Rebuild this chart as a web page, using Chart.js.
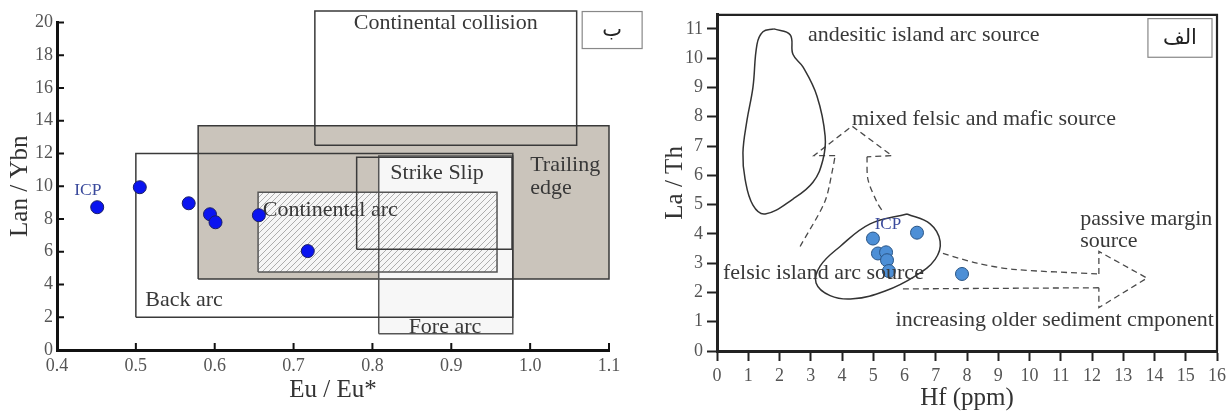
<!DOCTYPE html>
<html>
<head>
<meta charset="utf-8">
<script src="https://cdn.jsdelivr.net/npm/chart.js@4.4.1/dist/chart.umd.min.js"></script>
<style>
  html,body{margin:0;padding:0;background:#fff;}
  #wrap{position:relative;width:1231px;height:414px;overflow:hidden;background:#fff;}
  #left{position:absolute;left:0;top:0;}
  #right{position:absolute;left:660px;top:0;}
</style>
</head>
<body>
<div id="wrap">
  <canvas id="left" width="660" height="414"></canvas>
  <canvas id="right" width="571" height="414"></canvas>
</div>
<script>
/* ---- DATA: panel ب — Eu/Eu* vs Lan/Ybn ---- */
const euTicks  = [0.4, 0.5, 0.6, 0.7, 0.8, 0.9, 1.0, 1.1];
const lanTicks = [0, 2, 4, 6, 8, 10, 12, 14, 16, 18, 20];
const euSample  = [0.451, 0.505, 0.567, 0.594, 0.601, 0.656, 0.718];
const lanSample = [8.72, 9.94, 8.96, 8.29, 7.80, 8.23, 6.04];

// tectonic fields: [xMin, xMax, yMin, yMax]
const trailingEdge   = [0.579, 1.100, 4.33, 13.70];
const foreArc        = [0.808, 0.978, 1.00, 11.85];
const continentalArc = [0.655, 0.958, 4.76, 9.63];
const backArc        = [0.500, 0.978, 2.00, 12.00];
const strikeSlip     = [0.780, 0.977, 6.16, 11.77];
const collision      = [0.727, 1.059, 12.50, 20.70];

const leftLabels = [
  {text:"Continental collision", x:0.893, y:19.95, align:"center"},
  {text:"Trailing", x:1.000, y:11.28},
  {text:"edge", x:1.000, y:9.88},
  {text:"Strike Slip", x:0.882, y:10.80, align:"center"},
  {text:"Continental arc", x:0.661, y:8.54},
  {text:"Back arc", x:0.512, y:3.05},
  {text:"Fore arc", x:0.892, y:1.40, align:"center"},
  {text:"ICP", x:0.439, y:9.76, align:"center", size:17.5, color:"#3a4a9c"},
];
const leftTag = {text:"ب", x0:1.066, x1:1.142, y0:18.41, y1:20.67};

/* ---- DATA: panel الف — Hf vs La/Th ---- */
const hfTicks   = [0,1,2,3,4,5,6,7,8,9,10,11,12,13,14,15,16];
const laThTicks = [0,1,2,3,4,5,6,7,8,9,10,11];
const hfSample   = [4.99, 6.40, 5.15, 5.41, 5.44, 5.50, 7.84];
const laThSample = [3.84, 4.04, 3.33, 3.37, 3.10, 2.73, 2.63];

const andesiticHf   = [1.82, 2.34, 2.43, 2.75, 3.20, 3.46, 3.39, 3.07, 2.43, 1.54, 1.15, 0.90, 0.83, 0.96, 1.15, 1.28, 1.47, 1.82];
const andesiticLaTh = [11.0, 10.8, 10.13, 9.70, 8.70, 7.34, 6.53, 5.76, 5.19, 4.68, 4.98, 5.86, 6.77, 7.88, 9.00, 10.47, 10.90, 11.0];

const felsicHf   = [6.08, 6.82, 7.14, 6.98, 6.34, 5.38, 4.35, 3.62, 3.17, 3.30, 3.94, 4.90, 6.08];
const felsicLaTh = [4.68, 4.34, 3.74, 3.13, 2.56, 2.05, 1.78, 1.89, 2.32, 2.90, 3.57, 4.34, 4.68];

// upward arrow (mixed felsic and mafic source)
const upLeftHf    = [2.66, 3.45, 3.70, 3.78];
const upLeftLaTh  = [3.57, 5.10, 6.20, 6.67];
const upHeadHf    = [3.78, 3.10, 4.32, 5.60, 4.80];
const upHeadLaTh  = [6.67, 6.67, 7.68, 6.67, 6.63];
const upRightHf   = [4.80, 4.83, 5.12, 5.31];
const upRightLaTh = [6.63, 5.86, 5.08, 4.75];

// rightward arrow (passive margin source)
const rtUpperHf   = [7.23, 8.32, 9.47, 12.22];
const rtUpperLaTh = [3.33, 3.00, 2.79, 2.63];
const rtHeadHf    = [12.22, 12.22, 13.76, 12.22, 12.22];
const rtHeadLaTh  = [2.63, 3.40, 2.49, 1.48, 2.16];
const rtLowerHf   = [12.22, 5.95];
const rtLowerLaTh = [2.16, 2.12];

const rightLabels = [
  {text:"andesitic island arc source", x:2.91, y:10.77},
  {text:"mixed felsic and mafic source", x:4.32, y:7.91},
  {text:"passive margin", x:11.62, y:4.51},
  {text:"source", x:11.62, y:3.74},
  {text:"felsic island arc source", x:0.19, y:2.66},
  {text:"increasing older sediment cmponent", x:15.90, y:1.04, align:"right"},
  {text:"ICP", x:5.47, y:4.31, align:"center", size:17, color:"#3a4a9c"},
];
const rightTag = {text:"الف", x0:13.79, x1:15.84, y0:10.03, y1:11.35};

/* ---- helpers ---- */
const serif = "'Liberation Serif','Times New Roman',serif";
const zip = (xs, ys) => xs.map((x,i)=>({x, y:ys[i]}));
const rect = f => [{x:f[0],y:f[2]},{x:f[1],y:f[2]},{x:f[1],y:f[3]},{x:f[0],y:f[3]},{x:f[0],y:f[2]}];
const fixedTicks = values => scale => { scale.ticks = values.map(v=>({value:v})); };

function hatch(){
  const c = document.createElement("canvas"); c.width = 6; c.height = 6;
  const g = c.getContext("2d");
  g.fillStyle = "#f6f6f6"; g.fillRect(0,0,6,6);
  g.strokeStyle = "#9a9a9a"; g.lineWidth = 0.8;
  g.beginPath(); g.moveTo(0,6); g.lineTo(6,0); g.stroke();
  return g.createPattern(c, "repeat");
}

function field(data, opts){
  return Object.assign({data, pointRadius:0, pointHoverRadius:0, tension:0, clip:false,
    borderColor:"#3a3a3a", borderWidth:1.5, fill:false}, opts);
}

function drawLabels(chart, labels){
  const {ctx, scales:{x, y}} = chart;
  ctx.save();
  ctx.textBaseline = "middle";
  labels.forEach(l=>{
    ctx.font = `${l.size||22}px ${serif}`;
    ctx.fillStyle = l.color || "#383838";
    ctx.textAlign = l.align || "left";
    ctx.fillText(l.text, x.getPixelForValue(l.x), y.getPixelForValue(l.y));
  });
  ctx.restore();
}

function drawTag(chart, t){
  const {ctx, scales:{x, y}} = chart;
  const x0 = x.getPixelForValue(t.x0), x1 = x.getPixelForValue(t.x1);
  const y0 = y.getPixelForValue(t.y1), y1 = y.getPixelForValue(t.y0);
  ctx.save();
  ctx.fillStyle = "#fff"; ctx.fillRect(x0, y0, x1-x0, y1-y0);
  ctx.strokeStyle = "#888"; ctx.lineWidth = 1.2; ctx.strokeRect(x0, y0, x1-x0, y1-y0);
  ctx.fillStyle = "#222"; ctx.font = "21px 'DejaVu Sans', sans-serif";
  ctx.textAlign = "center"; ctx.textBaseline = "middle";
  ctx.fillText(t.text, (x0+x1)/2, (y0+y1)/2 + 1);
  ctx.restore();
}

/* ---- panel ب ---- */
const leftDecor = {
  id:"leftDecor",
  beforeDatasetDraw(chart, args){
    if(chart.data.datasets[args.index].id === "samples") drawLabels(chart, leftLabels);
  },
  afterDraw(chart){
    const {ctx, chartArea:a, scales:{x, y}} = chart;
    ctx.save();
    ctx.strokeStyle = "#111"; ctx.lineWidth = 2;
    ctx.beginPath();
    euTicks.forEach(v=>{ const px = x.getPixelForValue(v); ctx.moveTo(px, a.bottom); ctx.lineTo(px, a.bottom-7); });
    lanTicks.forEach(v=>{ const py = y.getPixelForValue(v); ctx.moveTo(a.left, py); ctx.lineTo(a.left+7, py); });
    ctx.stroke();
    ctx.restore();
    drawTag(chart, leftTag);
  }
};

new Chart(document.getElementById("left"), {
  type:"line",
  data:{datasets:[
    field(rect(trailingEdge),   {order:20, fill:"shape", backgroundColor:"#cac4bb", borderWidth:0}),
    field(rect(foreArc),        {order:19, fill:"shape", backgroundColor:"#f7f7f7", borderWidth:0}),
    field(rect(continentalArc), {order:18, fill:"shape", backgroundColor:hatch(), borderWidth:0}),
    field(rect(trailingEdge),   {order:10}),
    field(rect(foreArc),        {order:9, borderColor:"#555"}),
    field(rect(continentalArc), {order:8, borderColor:"#555"}),
    field(rect(backArc),        {order:7}),
    field(rect(strikeSlip),     {order:6}),
    field(rect(collision),      {order:5}),
    {id:"samples", order:1, data:zip(euSample, lanSample), showLine:false, clip:false,
     pointRadius:6.5, pointHoverRadius:6.5, pointBorderWidth:1,
     pointBackgroundColor:"#0a14f0", pointBorderColor:"#1b1f66"},
  ]},
  options:{
    responsive:false, animation:false, events:[],
    layout:{padding:{left:0, right:51, top:22.5, bottom:0}},
    plugins:{legend:{display:false}, tooltip:{enabled:false}, filler:{drawTime:"beforeDatasetDraw"}},
    scales:{
      x:{type:"linear", min:0.4, max:1.1,
         afterBuildTicks:fixedTicks(euTicks), afterFit:s=>{ s.height = 64; },
         grid:{display:false, drawTicks:false},
         border:{display:true, width:3, color:"#111"},
         ticks:{padding:5, color:"#555", font:{family:serif, size:18}, callback:v=>v.toFixed(1)},
         title:{display:true, text:"Eu / Eu*", color:"#333", font:{family:serif, size:25}, padding:{top:0, bottom:9}}},
      y:{type:"linear", min:0, max:20,
         afterBuildTicks:fixedTicks(lanTicks), afterFit:s=>{ s.width = 57; },
         grid:{display:false, drawTicks:false},
         border:{display:true, width:3, color:"#111"},
         ticks:{padding:4, color:"#555", font:{family:serif, size:18}},
         title:{display:true, text:"Lan / Ybn", color:"#333", font:{family:serif, size:25}, padding:{top:5, bottom:0}}}
    }
  },
  plugins:[leftDecor]
});

/* ---- panel الف ---- */
const rightDecor = {
  id:"rightDecor",
  afterDraw(chart){
    const {ctx, chartArea:a} = chart;
    ctx.save();
    ctx.strokeStyle = "#222"; ctx.lineWidth = 2.2;
    ctx.beginPath();
    ctx.moveTo(a.left, a.top); ctx.lineTo(a.right, a.top); ctx.lineTo(a.right, a.bottom);
    ctx.stroke();
    ctx.restore();
    drawLabels(chart, rightLabels);
    drawTag(chart, rightTag);
  }
};

const dashed = {borderColor:"#4a4a4a", borderWidth:1.3, borderDash:[6,4]};

new Chart(document.getElementById("right"), {
  type:"line",
  data:{datasets:[
    {order:1, data:zip(hfSample, laThSample), showLine:false, clip:false,
     pointRadius:6.5, pointHoverRadius:6.5, pointBorderWidth:1,
     pointBackgroundColor:"#4d8fd6", pointBorderColor:"#2a5585"},
    field(zip(andesiticHf, andesiticLaTh), {order:5, tension:0.4, borderColor:"#333"}),
    field(zip(felsicHf, felsicLaTh),       {order:5, tension:0.4, borderColor:"#333"}),
    field(zip(upLeftHf, upLeftLaTh),       Object.assign({order:6, tension:0.3}, dashed)),
    field(zip(upHeadHf, upHeadLaTh),       Object.assign({order:6}, dashed)),
    field(zip(upRightHf, upRightLaTh),     Object.assign({order:6, tension:0.3}, dashed)),
    field(zip(rtUpperHf, rtUpperLaTh),     Object.assign({order:6, tension:0.3}, dashed)),
    field(zip(rtHeadHf, rtHeadLaTh),       Object.assign({order:6}, dashed)),
    field(zip(rtLowerHf, rtLowerLaTh),     Object.assign({order:6}, dashed)),
  ]},
  options:{
    responsive:false, animation:false, events:[],
    layout:{padding:{left:0, right:14, top:10, bottom:0}},
    plugins:{legend:{display:false}, tooltip:{enabled:false}},
    scales:{
      x:{type:"linear", min:0, max:16,
         afterBuildTicks:fixedTicks(hfTicks), afterFit:s=>{ s.height = 63; },
         grid:{drawOnChartArea:false, drawTicks:true, tickLength:10, tickWidth:2, color:"#222"},
         border:{display:true, width:3, color:"#222"},
         ticks:{padding:4, color:"#555", font:{family:serif, size:18}},
         title:{display:true, text:"Hf (ppm)", color:"#333", font:{family:serif, size:25}, padding:{top:0, bottom:1}}},
      y:{type:"linear", min:0, max:11.48,
         afterBuildTicks:fixedTicks(laThTicks), afterFit:s=>{ s.width = 57; },
         grid:{drawOnChartArea:false, drawTicks:true, tickLength:10, tickWidth:2, color:"#222"},
         border:{display:true, width:3, color:"#222"},
         ticks:{padding:4, color:"#555", font:{family:serif, size:18}},
         title:{display:true, text:"La / Th", color:"#333", font:{family:serif, size:25}, padding:{top:0, bottom:0}}}
    }
  },
  plugins:[rightDecor]
});
</script>
</body>
</html>
